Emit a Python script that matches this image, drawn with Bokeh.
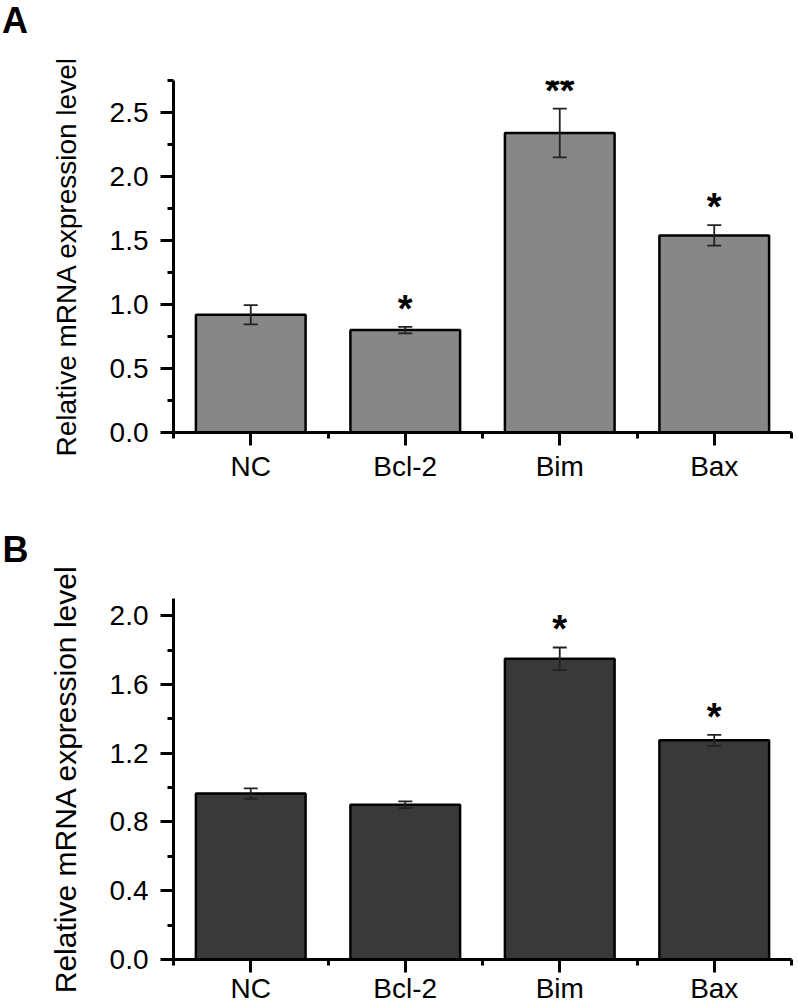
import numpy as np
from bokeh.plotting import figure
from bokeh.layouts import column
from bokeh.models import (ColumnDataSource, Range1d, FixedTicker, Title, Div,
                          PrintfTickFormatter, Whisker, TeeHead, LabelSet)
from bokeh.core.properties import value
from bokeh.embed import file_html
from bokeh.resources import INLINE

# ---------------- data ----------------
categories = ["NC", "Bcl-2", "Bim", "Bax"]

a_values = [0.92, 0.80, 2.34, 1.54]
a_errors = [0.075, 0.025, 0.19, 0.08]
a_marks = ["", "*", "**", "*"]

b_values = [0.965, 0.90, 1.75, 1.275]
b_errors = [0.03, 0.02, 0.065, 0.032]
b_marks = ["", "", "*", "*"]

y_title = "Relative mRNA expression level"
a_ticks = [0.0, 0.5, 1.0, 1.5, 2.0, 2.5]
b_ticks = [0.0, 0.4, 0.8, 1.2, 1.6, 2.0]

FONT = "Liberation Sans"


def panel(values, errors, marks, ymax, ticks, color, height,
          b_left, b_right, b_top, b_bottom, label_standoff, title_size):
    n = len(categories)
    xs = [i + 0.5 for i in range(n)]
    src = ColumnDataSource(dict(
        x=xs, top=values,
        upper=[v + e for v, e in zip(values, errors)],
        lower=[v - e for v, e in zip(values, errors)],
        mark=marks,
    ))
    p = figure(width=796, height=height, x_range=Range1d(0, n), y_range=Range1d(0, ymax),
               output_backend="svg", toolbar_location=None,
               min_border_left=b_left, min_border_right=b_right,
               min_border_top=b_top, min_border_bottom=b_bottom)
    p.outline_line_color = None
    p.grid.visible = False
    p.background_fill_color = "white"
    p.border_fill_color = "white"

    p.vbar(x="x", top="top", width=0.71, bottom=0, source=src,
           fill_color=color, line_color="black", line_width=2.5)

    w = Whisker(source=src, base="x", upper="upper", lower="lower",
                line_color="#222222", line_width=1.8, level="annotation",
                upper_head=TeeHead(size=14, line_color="#222222", line_width=1.8),
                lower_head=TeeHead(size=14, line_color="#222222", line_width=1.8))
    p.add_layout(w)

    stars = LabelSet(x="x", y="upper", text="mark", source=src,
                     text_font=value(FONT), text_font_size=value("38px"),
                     text_font_style=value("bold"),
                     text_align=value("center"), text_baseline=value("alphabetic"),
                     y_offset=5, text_color=value("black"))
    p.add_layout(stars)

    # axes
    for ax in (p.xaxis[0], p.yaxis[0]):
        ax.axis_line_width = 3
        ax.axis_line_color = "black"
        ax.major_tick_line_width = 3
        ax.minor_tick_line_width = 3
        ax.major_tick_line_color = "black"
        ax.minor_tick_line_color = "black"
        ax.major_tick_in = 0
        ax.major_tick_out = 13
        ax.minor_tick_in = 0
        ax.minor_tick_out = 6
        ax.major_label_text_font = FONT
        ax.major_label_text_color = "black"

    xa = p.xaxis[0]
    xa.ticker = FixedTicker(ticks=xs, minor_ticks=list(range(n + 1)))
    xa.major_label_overrides = {x: c for x, c in zip(xs, categories)}
    xa.major_label_text_font_size = "28px"
    xa.major_label_standoff = label_standoff

    ya = p.yaxis[0]
    minor = []
    for t0, t1 in zip(ticks[:-1], ticks[1:]):
        minor.append((t0 + t1) / 2)
    step = ticks[1] - ticks[0]
    minor.append(ticks[-1] + step / 2)
    ya.ticker = FixedTicker(ticks=ticks, minor_ticks=minor)
    ya.formatter = PrintfTickFormatter(format="%.1f")
    ya.major_label_text_font_size = "28px"
    ya.major_label_standoff = 12
    ya.axis_label = y_title
    ya.axis_label_text_font = FONT
    ya.axis_label_text_font_size = title_size
    ya.axis_label_text_font_style = "normal"
    ya.axis_label_text_color = "black"
    ya.axis_label_standoff = 25
    return p


# panel letter A: small text block above the first chart
divA = Div(text="A", width=796, height=42,
           styles={"font-family": FONT, "font-size": "36px", "font-weight": "bold",
                   "line-height": "41px", "margin": "0", "padding": "0 0 0 2px",
                   "color": "black"})

pA = panel(a_values, a_errors, a_marks, 2.75, a_ticks, "#878787", 442,
           170, 5, 38, 52, 5, "28px")
pB = panel(b_values, b_errors, b_marks, 2.1, b_ticks, "#393939", 522,
           173, 0, 114, 47, 0, "30px")
pB.title = Title(text="B", align="left", offset=-173 + 2,
                 vertical_align="bottom", standoff=58,
                 text_font=FONT, text_font_size="36px",
                 text_font_style="bold", text_color="black")

layout = column(divA, pA, pB)
open("out.html", "w").write(file_html(layout, INLINE))
